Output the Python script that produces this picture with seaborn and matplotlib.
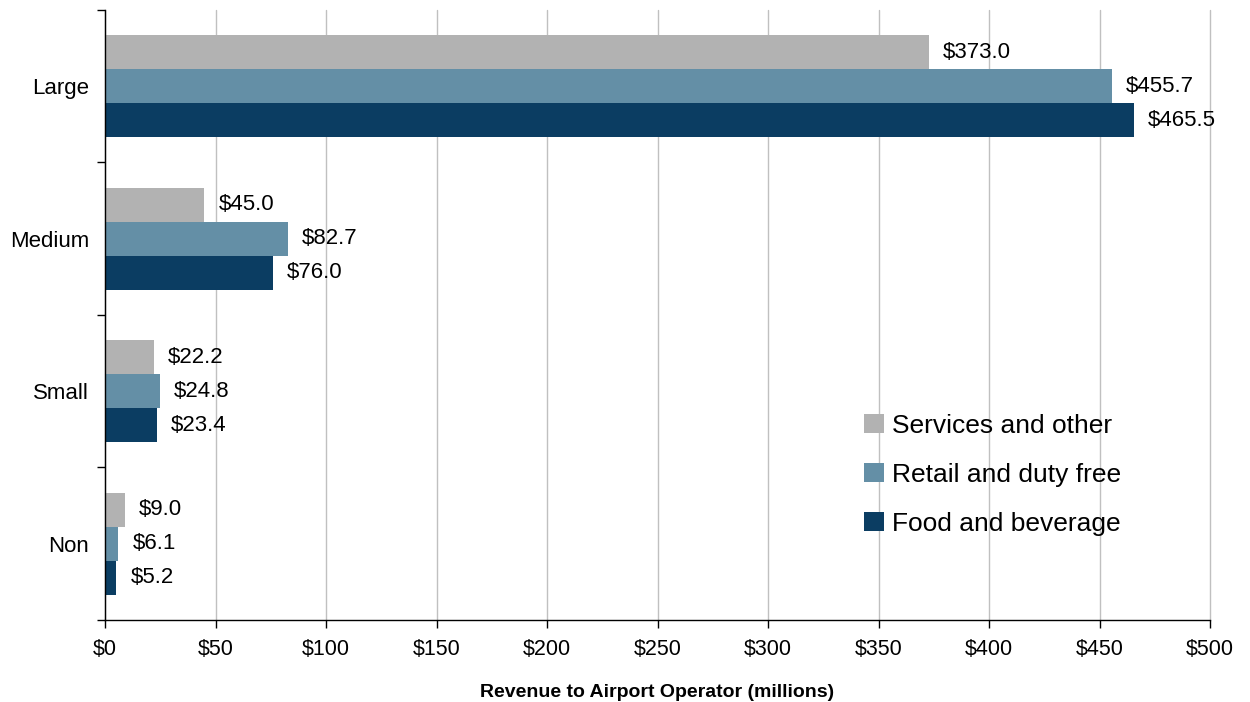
import pandas as pd
import numpy as np
import matplotlib.pyplot as plt
import seaborn as sns
from matplotlib.ticker import FuncFormatter, FixedLocator

sizes = ["Large", "Medium", "Small", "Non"]
categories = ["Services and other", "Retail and duty free", "Food and beverage"]
services = [373.0, 45.0, 22.2, 9.0]
retail = [455.7, 82.7, 24.8, 6.1]
food = [465.5, 76.0, 23.4, 5.2]
colors = ["#b2b2b2", "#648fa6", "#0b3d62"]

rows = []
for cat, vals in zip(categories, [services, retail, food]):
    for s, v in zip(sizes, vals):
        rows.append({"Size": s, "Category": cat, "Revenue": v})
df = pd.DataFrame(rows)

sns.set_style("white")
plt.rcParams["font.family"] = ["Liberation Sans", "DejaVu Sans"]
plt.rcParams["text.color"] = "black"
plt.rcParams["axes.labelcolor"] = "black"
plt.rcParams["xtick.color"] = "black"
plt.rcParams["ytick.color"] = "black"

fig, ax = plt.subplots(figsize=(12.5, 7.02), dpi=100)
fig.subplots_adjust(left=0.084, right=0.968, top=0.986, bottom=0.117)

sns.barplot(data=df, y="Size", x="Revenue", hue="Category", order=sizes,
            hue_order=categories, palette=colors, width=0.67, orient="h",
            saturation=1, linewidth=0, ax=ax, errorbar=None)

for cont in ax.containers:
    ax.bar_label(cont, labels=[f"${v:.1f}" for v in cont.datavalues],
                 padding=10, fontsize=16)

ax.set_xlim(0, 500)
ax.set_ylim(3.5, -0.5)
ax.set_xticks(np.arange(0, 501, 50))
ax.xaxis.set_major_formatter(FuncFormatter(lambda v, p: f"${v:.0f}"))
ax.grid(axis="x", color="#c0c0c0", linewidth=1)
for gl in ax.get_xgridlines():
    gl.set_clip_on(False)
ax.set_axisbelow(True)

for side in ["top", "right"]:
    ax.spines[side].set_visible(False)
for side in ["left", "bottom"]:
    ax.spines[side].set_color("black")
    ax.spines[side].set_linewidth(1)

ax.tick_params(axis="x", bottom=True, length=6, width=1, labelsize=15.5, pad=8)
ax.tick_params(axis="y", which="major", left=False, labelsize=16, pad=8)
ax.yaxis.set_minor_locator(FixedLocator([-0.5, 0.5, 1.5, 2.5, 3.5]))
ax.tick_params(axis="y", which="minor", left=True, length=6, width=1)

ax.set_ylabel("")
ax.set_xlabel("Revenue to Airport Operator (millions)", fontsize=14,
              fontweight="bold", labelpad=17, color="black")

ax.legend(loc="lower right", bbox_to_anchor=(0.941, 0.099), frameon=False,
          fontsize=19, handlelength=0.75, handleheight=0.75, handletextpad=0.3,
          labelspacing=0.95)

fig.savefig("out.png", dpi=100)
